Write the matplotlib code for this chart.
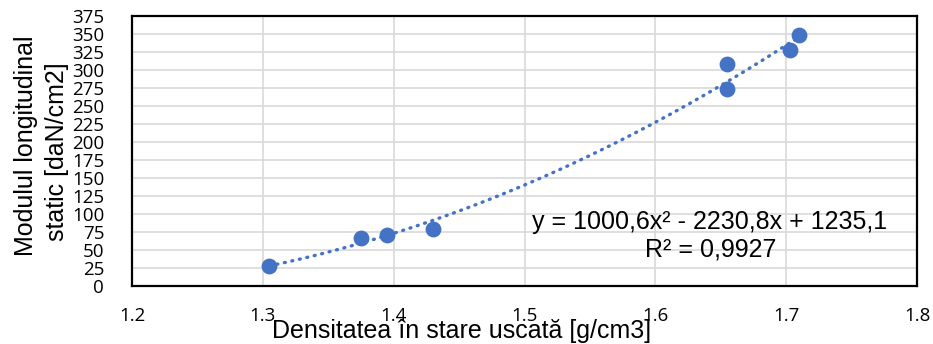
import matplotlib
matplotlib.use("Agg")
import matplotlib.pyplot as plt
import numpy as np

density = [1.305, 1.375, 1.395, 1.43, 1.655, 1.655, 1.703, 1.71]
modulus = [28, 67, 71, 79, 308, 274, 328, 348]
coef = [1000.6, -2230.8, 1235.1]
x_ticks = [1.2, 1.3, 1.4, 1.5, 1.6, 1.7, 1.8]
y_ticks = list(range(0, 376, 25))

blue = "#4472C4"
fig = plt.figure(figsize=(9.33, 3.44), dpi=100)
ax = fig.add_axes([132/933, 1-286/344, 785/933, 270/344])

xs = np.linspace(min(density), max(density), 200)
ax.plot(xs, np.polyval(coef, xs), color=blue, lw=2.4, linestyle=(0, (0.3, 2.0)),
        dash_capstyle="round", zorder=2)
ax.scatter(density, modulus, s=130, color=blue, zorder=3, linewidths=0)

ax.set_xlim(1.2, 1.8)
ax.set_ylim(0, 375)
ax.set_xticks(x_ticks)
ax.set_yticks(y_ticks)
ax.set_xticklabels([f"{v:.1f}" for v in x_ticks], fontfamily="Open Sans", fontsize=13.5)
ax.set_yticklabels([str(v) for v in y_ticks], fontfamily="Open Sans", fontsize=13.5)
ax.tick_params(axis="x", length=0, pad=15)
ax.tick_params(axis="y", length=0, pad=20)
ax.grid(True, color="#D9D9D9", lw=1.2)
ax.set_axisbelow(True)
for s in ax.spines.values():
    s.set_color("black")
    s.set_linewidth(1.6)

fig.text(462/933, 1-331/344, "Densitatea în stare uscată [g/cm3]", ha="center", va="center",
         fontfamily="Liberation Sans", fontsize=18)
fig.text(26/933, 1-146/344, "Modulul longitudinal", rotation=90,
         ha="center", va="center", fontfamily="Liberation Sans", fontsize=18)
fig.text(57/933, 1-152/344, "static [daN/cm2]", rotation=90,
         ha="center", va="center", fontfamily="Liberation Sans", fontsize=18)
fig.text(710/933, 1-222/344, "y = 1000,6x² - 2230,8x + 1235,1", ha="center", va="center",
         fontfamily="Liberation Sans", fontsize=18)
fig.text(711/933, 1-250/344, "R² = 0,9927", ha="center", va="center",
         fontfamily="Liberation Sans", fontsize=18)

fig.savefig("out.png", dpi=100)
